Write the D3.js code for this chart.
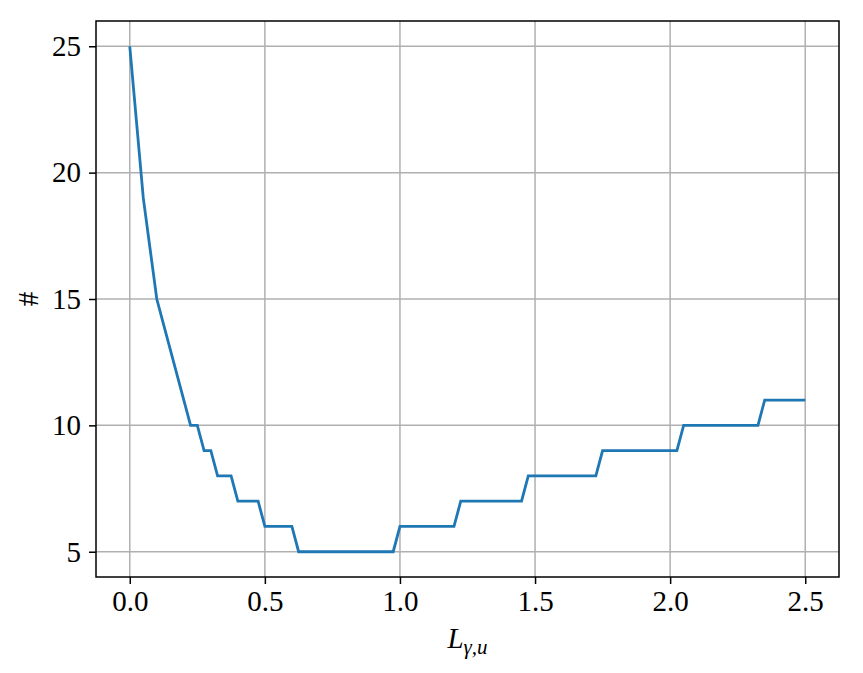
<!doctype html>
<html lang="en">
<head>
<meta charset="utf-8" />
<title>Count vs L</title>
<script src="https://d3js.org/d3.v7.min.js"></script>
<style>
  body { margin: 0; background: #fff; }
  text { font-family: "Liberation Serif", "DejaVu Serif", serif; }
</style>
</head>
<body>
<div id="chart"></div>
<script>
// values (step of 0.025)
const lValues = [
  0, 0.025, 0.05, 0.075, 0.1, 0.125, 0.15, 0.175, 0.2, 0.225,
  0.25, 0.275, 0.3, 0.325, 0.35, 0.375, 0.4, 0.425, 0.45, 0.475,
  0.5, 0.525, 0.55, 0.575, 0.6, 0.625, 0.65, 0.675, 0.7, 0.725,
  0.75, 0.775, 0.8, 0.825, 0.85, 0.875, 0.9, 0.925, 0.95, 0.975,
  1.0, 1.025, 1.05, 1.075, 1.1, 1.125, 1.15, 1.175, 1.2, 1.225,
  1.25, 1.275, 1.3, 1.325, 1.35, 1.375, 1.4, 1.425, 1.45, 1.475,
  1.5, 1.525, 1.55, 1.575, 1.6, 1.625, 1.65, 1.675, 1.7, 1.725,
  1.75, 1.775, 1.8, 1.825, 1.85, 1.875, 1.9, 1.925, 1.95, 1.975,
  2.0, 2.025, 2.05, 2.075, 2.1, 2.125, 2.15, 2.175, 2.2, 2.225,
  2.25, 2.275, 2.3, 2.325, 2.35, 2.375, 2.4, 2.425, 2.45, 2.475,
  2.5
];
const counts = [
  25, 22, 19, 17, 15, 14, 13, 12, 11, 10,
  10, 9, 9, 8, 8, 8, 7, 7, 7, 7,
  6, 6, 6, 6, 6, 5, 5, 5, 5, 5,
  5, 5, 5, 5, 5, 5, 5, 5, 5, 5,
  6, 6, 6, 6, 6, 6, 6, 6, 6, 7,
  7, 7, 7, 7, 7, 7, 7, 7, 7, 8,
  8, 8, 8, 8, 8, 8, 8, 8, 8, 8,
  9, 9, 9, 9, 9, 9, 9, 9, 9, 9,
  9, 9, 10, 10, 10, 10, 10, 10, 10, 10,
  10, 10, 10, 10, 11, 11, 11, 11, 11, 11,
  11
];
const xTicks = [0, 0.5, 1.0, 1.5, 2.0, 2.5];
const yTicks = [5, 10, 15, 20, 25];

const W = 863, H = 673;
const margin = { top: 21, right: 24, bottom: 96, left: 96 };
const width = W - margin.left - margin.right,
      height = H - margin.top - margin.bottom;

const svg = d3.select("#chart").append("svg")
  .attr("width", W).attr("height", H);
const g = svg.append("g")
  .attr("transform", `translate(${margin.left},${margin.top})`);

const x = d3.scaleLinear().domain([-0.125, 2.625]).range([0, width]);
const y = d3.scaleLinear().domain([4, 26]).range([height, 0]);

// grid
g.append("g").selectAll("line").data(xTicks).join("line")
  .attr("x1", d => x(d)).attr("x2", d => x(d))
  .attr("y1", 0).attr("y2", height)
  .attr("stroke", "#b0b0b0").attr("stroke-width", 1.5);
g.append("g").selectAll("line").data(yTicks).join("line")
  .attr("y1", d => y(d)).attr("y2", d => y(d))
  .attr("x1", 0).attr("x2", width)
  .attr("stroke", "#b0b0b0").attr("stroke-width", 1.5);

// line
const line = d3.line().x((d, i) => x(lValues[i])).y(d => y(d));
g.append("path").datum(counts)
  .attr("d", line)
  .attr("fill", "none")
  .attr("stroke", "#1f77b4")
  .attr("stroke-width", 2.8)
  .attr("stroke-linejoin", "miter");

// axes
const xAxis = g.append("g")
  .attr("transform", `translate(0,${height})`)
  .call(d3.axisBottom(x).tickValues(xTicks).tickFormat(d3.format(".1f"))
    .tickSizeInner(7).tickSizeOuter(0).tickPadding(6));
const yAxis = g.append("g")
  .call(d3.axisLeft(y).tickValues(yTicks).tickFormat(d3.format("d"))
    .tickSizeInner(7).tickSizeOuter(0).tickPadding(8));
[xAxis, yAxis].forEach(a => {
  a.select(".domain").remove();
  a.selectAll(".tick line").attr("stroke", "#000").attr("stroke-width", 1.5);
  a.selectAll(".tick text").attr("font-size", 29)
    .attr("font-family", "'Liberation Serif', serif").attr("fill", "#000");
});

// frame
g.append("rect").attr("width", width).attr("height", height)
  .attr("fill", "none").attr("stroke", "#000").attr("stroke-width", 1.5);

// x label
const xl = svg.append("text")
  .attr("x", margin.left + width / 2).attr("y", 648)
  .attr("text-anchor", "middle").attr("font-size", 29);
xl.append("tspan").attr("font-style", "italic").text("L");
xl.append("tspan").attr("font-style", "italic").attr("font-size", 21)
  .attr("dy", 6).text("γ,u");

// y label
svg.append("text")
  .attr("transform", `translate(38,${margin.top + height / 2}) rotate(-90)`)
  .attr("text-anchor", "middle").attr("font-size", 29)
  .text("#");
</script>
</body>
</html>
